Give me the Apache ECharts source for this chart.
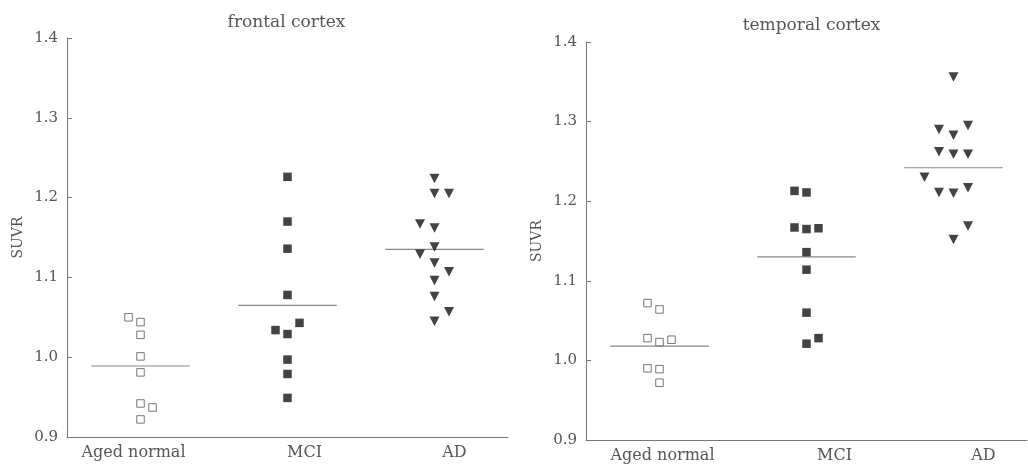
<!DOCTYPE html>
<html>
<head>
<meta charset="utf-8">
<script src="https://cdn.jsdelivr.net/npm/echarts@6/dist/echarts.min.js"></script>
<style>
html,body{margin:0;padding:0;background:#fff;}
#chart{width:1028px;height:468px;}
</style>
</head>
<body>
<div id="chart"></div>
<script>
// ---- data ----
const categories = ['Aged normal', 'MCI', 'AD'];
const panelTitles = ['frontal cortex', 'temporal cortex'];
const yAxisName = 'SUVR';
const yMin = 0.9, yMax = 1.4, yStep = 0.1;

const frontalAged = [1.050, 1.044, 1.028, 1.001, 0.981, 0.942, 0.937, 0.922];
const frontalAgedSlot = [-1, 0, 0, 0, 0, 0, 1, 0];
const frontalMCI = [1.226, 1.170, 1.136, 1.078, 1.034, 1.043, 1.029, 0.997, 0.979, 0.949];
const frontalMCISlot = [0, 0, 0, 0, -1, 1, 0, 0, 0, 0];
const frontalAD = [1.224, 1.205, 1.205, 1.167, 1.162, 1.138, 1.129, 1.118, 1.107, 1.096, 1.076, 1.057, 1.045];
const frontalADSlot = [0, 0, 1, -1, 0, 0, -1, 0, 1, 0, 0, 1, 0];
const frontalMeans = [0.989, 1.065, 1.135];

const temporalAged = [1.072, 1.064, 1.028, 1.023, 1.026, 0.990, 0.989, 0.972];
const temporalAgedSlot = [-1, 0, -1, 0, 1, -1, 0, 0];
const temporalMCI = [1.213, 1.211, 1.167, 1.165, 1.166, 1.136, 1.114, 1.060, 1.021, 1.028];
const temporalMCISlot = [-1, 0, -1, 0, 1, 0, 0, 0, 0, 1];
const temporalAD = [1.356, 1.290, 1.283, 1.295, 1.262, 1.259, 1.259, 1.230, 1.211, 1.210, 1.217, 1.169, 1.152];
const temporalADSlot = [0, -1, 0, 1, -1, 0, 1, -2, -1, 0, 1, 1, 0];
const temporalMeans = [1.018, 1.130, 1.242];

// ---- styling ----
const FONT = "'DejaVu Serif', 'Liberation Serif', serif";
const TEXT = '#555';
const AXIS = '#777';
const slotStep = [12, 12, 14.5];           // px between jitter columns per group
const meanHalf = 0.335;                     // half-width of mean bar (axis units)
const labelShift = [[-7, 17, 20], [3, 28, 30]]; // px shift of category labels per panel

const groups = [
  [[frontalAged, frontalAgedSlot], [frontalMCI, frontalMCISlot], [frontalAD, frontalADSlot]],
  [[temporalAged, temporalAgedSlot], [temporalMCI, temporalMCISlot], [temporalAD, temporalADSlot]]
];
const means = [frontalMeans, temporalMeans];

const grids = [
  {left: 67, top: 38, width: 441, height: 399},
  {left: 586, top: 42, width: 441, height: 398}
];

const markerStyles = [
  {symbol: 'rect', symbolSize: 7.5, symbolRotate: 0, itemStyle: {color: '#fff', borderColor: '#555', borderWidth: 1}},
  {symbol: 'rect', symbolSize: 8.5, symbolRotate: 0, itemStyle: {color: '#141414', borderWidth: 0}},
  {symbol: 'triangle', symbolSize: [10, 9.5], symbolRotate: 180, itemStyle: {color: '#141414', borderWidth: 0}}
];

function richFor(p) {
  const r = {};
  labelShift[p].forEach((dx, i) => {
    r['c' + i] = {
      fontFamily: FONT, fontSize: 16, color: TEXT,
      padding: dx >= 0 ? [0, 0, 0, 2 * dx] : [0, -2 * dx, 0, 0]
    };
  });
  return r;
}

const xAxes = [], yAxes = [], series = [], graphics = [];
[0, 1].forEach(p => {
  xAxes.push({
    type: 'value', gridIndex: p, min: 0, max: categories.length,
    axisLine: {show: true, lineStyle: {color: AXIS, width: 1}},
    axisTick: {show: false},
    splitLine: {show: false},
    axisLabel: {
      margin: 8,
      customValues: categories.map((c, i) => i + 0.5),
      formatter: v => {
        const i = Math.round(v - 0.5);
        return '{c' + i + '|' + categories[i] + '}';
      },
      rich: richFor(p)
    }
  });
  yAxes.push({
    type: 'value', gridIndex: p, min: yMin, max: yMax, interval: yStep,
    name: yAxisName, nameLocation: 'middle', nameRotate: 90, nameGap: 42,
    nameTextStyle: {fontFamily: FONT, fontSize: 14, color: TEXT},
    axisLine: {show: true, lineStyle: {color: AXIS, width: 1}},
    axisTick: {show: true, inside: true, length: 5, lineStyle: {color: AXIS}},
    splitLine: {show: false},
    axisLabel: {
      margin: 9, fontFamily: FONT, fontSize: 15, color: TEXT,
      formatter: v => v.toFixed(1)
    }
  });
  groups[p].forEach((g, gi) => {
    const [vals, slots] = g;
    const ms = markerStyles[gi];
    series.push({
      type: 'scatter', xAxisIndex: p, yAxisIndex: p, z: 3,
      symbol: ms.symbol, symbolSize: ms.symbolSize, symbolRotate: ms.symbolRotate,
      itemStyle: ms.itemStyle,
      data: vals.map((v, k) => ({value: [gi + 0.5, v], symbolOffset: [slots[k] * slotStep[gi], 0]})),
      silent: true
    });
    series.push({
      type: 'line', xAxisIndex: p, yAxisIndex: p, z: 2,
      symbol: 'none', silent: true,
      lineStyle: {color: '#888', width: 1.2},
      data: [[gi + 0.5 - meanHalf, means[p][gi]], [gi + 0.5 + meanHalf, means[p][gi]]]
    });
  });
  graphics.push({
    type: 'text',
    x: grids[p].left + grids[p].width / 2 + (p === 0 ? -1 : 5),
    y: p === 0 ? 23 : 26,
    style: {
      text: panelTitles[p], fontFamily: FONT, fontSize: 17, fill: TEXT,
      align: 'center', verticalAlign: 'middle'
    }
  });
});

const chart = echarts.init(document.getElementById('chart'), null, {renderer: 'canvas'});
chart.setOption({
  animation: false,
  backgroundColor: '#fff',
  grid: grids,
  xAxis: xAxes,
  yAxis: yAxes,
  series: series,
  graphic: graphics
});
</script>
</body>
</html>
